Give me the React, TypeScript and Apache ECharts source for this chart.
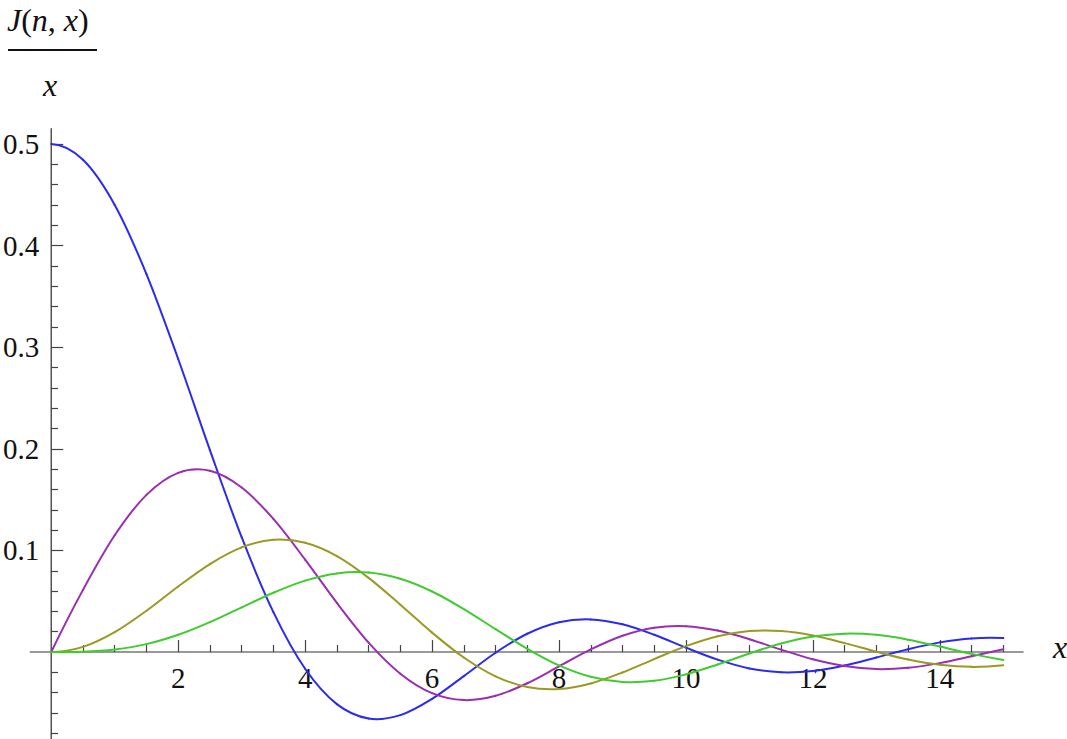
import React, { useEffect, useRef } from "react";
import * as echarts from "echarts";

// sample positions along x
const xs = [0, 0.5, 1, 1.5, 2, 2.5, 3, 3.5, 4, 4.5, 5, 5.5, 6, 6.5, 7, 7.5, 8, 8.5, 9, 9.5, 10, 10.5, 11, 11.5, 12, 12.5, 13, 13.5, 14, 14.5, 15];

// J(n, x) / x
const n1 = [0.5, 0.4845, 0.4401, 0.372, 0.2884, 0.1988, 0.113, 0.0393, -0.0165, -0.0513, -0.0655, -0.0621, -0.0461, -0.0237, -0.0007, 0.018, 0.0293, 0.0321, 0.0273, 0.017, 0.0043, -0.0075, -0.0161, -0.0199, -0.0186, -0.0132, -0.0054, 0.0028, 0.0095, 0.0134, 0.0137];
const n2 = [0, 0.0612, 0.1149, 0.1547, 0.1764, 0.1784, 0.162, 0.131, 0.091, 0.0484, 0.0093, -0.0213, -0.0405, -0.0473, -0.0431, -0.0307, -0.0141, 0.0026, 0.0161, 0.024, 0.0255, 0.0211, 0.0126, 0.0024, -0.0071, -0.0138, -0.0168, -0.0155, -0.0109, -0.0042, 0.0028];
const n3 = [0, 0.0051, 0.0196, 0.0406, 0.0645, 0.0866, 0.103, 0.1105, 0.1075, 0.0944, 0.073, 0.0466, 0.0191, -0.0054, -0.0239, -0.0344, -0.0364, -0.0309, -0.0201, -0.0069, 0.0058, 0.0156, 0.0207, 0.0207, 0.0163, 0.0088, 0.0003, -0.0074, -0.0126, -0.0146, -0.0129];
const n4 = [0, 0.0003, 0.0025, 0.0078, 0.017, 0.0295, 0.044, 0.0584, 0.0703, 0.0774, 0.0782, 0.0721, 0.0596, 0.0423, 0.0225, 0.0032, -0.0132, -0.0244, -0.0295, -0.0283, -0.022, -0.0122, -0.0014, 0.0084, 0.0152, 0.0181, 0.0169, 0.0122, 0.0054, -0.0018, -0.0079];

// ticks
const xMajor = [2, 4, 6, 8, 10, 12, 14];
const xMinor = [0.5, 1, 1.5, 2.5, 3, 3.5, 4.5, 5, 5.5, 6.5, 7, 7.5, 8.5, 9, 9.5, 10.5, 11, 11.5, 12.5, 13, 13.5, 14.5, 15];
const yMajor = [0.1, 0.2, 0.3, 0.4, 0.5];
const yMinor = [-0.08, -0.06, -0.04, -0.02, 0.02, 0.04, 0.06, 0.08, 0.12, 0.14, 0.16, 0.18, 0.22, 0.24, 0.26, 0.28, 0.32, 0.34, 0.36, 0.38, 0.42, 0.44, 0.46, 0.48];

const seriesDefs = [
  { name: "n1", values: n1, color: "#2a2af2" },
  { name: "n2", values: n2, color: "#9a2db4" },
  { name: "n3", values: n3, color: "#9a9a22" },
  { name: "n4", values: n4, color: "#40cc2e" },
];

const FONT = "'Liberation Serif', 'DejaVu Serif', serif";
const AXIS_COLOR = "#777777";
const TICK_COLOR = "#444444";

// axis ranges
const X_MIN = -0.33;
const X_MAX = 15.31;
const Y_MIN = -0.085;
const Y_MAX = 0.515;

// grid placement (pixels)
const G_LEFT = 30;
const G_RIGHT = 44;
const G_TOP = 128.8;
const G_BOTTOM = 0.6;
const W = 1067;
const H = 739;

// smooth curve through the data points (cubic Hermite / Catmull-Rom),
// drawn one segment per data item with the axis scales (api.coord)
function makeRenderItem(values: number[], color: string) {
  return (params: any, api: any) => {
    const i = params.dataIndex;
    const n = xs.length;
    if (i >= n - 1) return null;
    const P = (j: number) => api.coord([xs[j], values[j]]);
    const tangent = (j: number) => {
      if (j === 0) {
        const a = P(0), b = P(1), c = P(2);
        return [(-3 * a[0] + 4 * b[0] - c[0]) / 2, (-3 * a[1] + 4 * b[1] - c[1]) / 2];
      }
      if (j === n - 1) {
        const a = P(n - 3), b = P(n - 2), c = P(n - 1);
        return [(a[0] - 4 * b[0] + 3 * c[0]) / 2, (a[1] - 4 * b[1] + 3 * c[1]) / 2];
      }
      const a = P(j - 1), c = P(j + 1);
      return [(c[0] - a[0]) / 2, (c[1] - a[1]) / 2];
    };
    const p0 = P(i);
    const p1 = P(i + 1);
    const m0 = tangent(i);
    const m1 = tangent(i + 1);
    return {
      type: "bezierCurve",
      shape: {
        x1: p0[0],
        y1: p0[1],
        cpx1: p0[0] + m0[0] / 3,
        cpy1: p0[1] + m0[1] / 3,
        cpx2: p1[0] - m1[0] / 3,
        cpy2: p1[1] - m1[1] / 3,
        x2: p1[0],
        y2: p1[1],
      },
      style: { stroke: color, lineWidth: 2, fill: "none", lineCap: "round" },
    };
  };
}

export default function App() {
  const ref = useRef<HTMLDivElement>(null);

  useEffect(() => {
    if (!ref.current) return;
    const chart = echarts.init(ref.current, undefined, { renderer: "svg" });
    const gw = W - G_LEFT - G_RIGHT;
    const gh = H - G_TOP - G_BOTTOM;
    // pixel positions of the zero lines, used to offset the axes onto them
    const zeroY = G_TOP + (Y_MAX / (Y_MAX - Y_MIN)) * gh;
    const zeroX = G_LEFT + (-X_MIN / (X_MAX - X_MIN)) * gw;
    const offBottom = -(G_TOP + gh - zeroY);
    const offTop = -(zeroY - G_TOP);
    const offLeft = -(zeroX - G_LEFT);
    const offRight = -(G_LEFT + gw - zeroX);

    const option: any = {
      animation: false,
      backgroundColor: "#ffffff",
      textStyle: { fontFamily: FONT },
      grid: {
        left: G_LEFT,
        right: G_RIGHT,
        top: G_TOP,
        bottom: G_BOTTOM,
        containLabel: false,
      },
      xAxis: [
        {
          type: "value",
          min: X_MIN,
          max: X_MAX,
          position: "bottom",
          offset: offBottom,
          axisLine: { show: true, onZero: false, lineStyle: { color: AXIS_COLOR, width: 1.5 } },
          axisTick: { show: true, inside: true, length: 12, customValues: xMajor, lineStyle: { color: TICK_COLOR, width: 1.2 } },
          axisLabel: { show: true, customValues: xMajor, margin: 11, fontSize: 29, color: "#111", fontFamily: FONT },
          splitLine: { show: false },
        },
        {
          type: "value",
          min: X_MIN,
          max: X_MAX,
          position: "top",
          offset: offTop,
          axisLine: { show: false, onZero: false },
          axisTick: { show: true, inside: false, length: 7, customValues: xMinor, lineStyle: { color: TICK_COLOR, width: 1.2 } },
          axisLabel: { show: false },
          splitLine: { show: false },
        },
      ],
      yAxis: [
        {
          type: "value",
          min: Y_MIN,
          max: Y_MAX,
          position: "left",
          offset: offLeft,
          axisLine: { show: true, onZero: false, lineStyle: { color: "#555555", width: 1.5 } },
          axisTick: { show: true, inside: true, length: 12, customValues: yMajor, lineStyle: { color: TICK_COLOR, width: 1.2 } },
          axisLabel: {
            show: true,
            customValues: yMajor,
            margin: 12,
            fontSize: 29,
            color: "#111",
            fontFamily: FONT,
            formatter: (v: number) => v.toFixed(1),
          },
          splitLine: { show: false },
        },
        {
          type: "value",
          min: Y_MIN,
          max: Y_MAX,
          position: "right",
          offset: offRight,
          axisLine: { show: false, onZero: false },
          axisTick: { show: true, inside: false, length: 7, customValues: yMinor, lineStyle: { color: TICK_COLOR, width: 1.2 } },
          axisLabel: { show: false },
          splitLine: { show: false },
        },
      ],
      series: seriesDefs.map((s) => ({
        type: "custom",
        name: s.name,
        coordinateSystem: "cartesian2d",
        xAxisIndex: 0,
        yAxisIndex: 0,
        data: xs.map((x, i) => [x, s.values[i]]),
        encode: { x: 0, y: 1 },
        renderItem: makeRenderItem(s.values, s.color),
        itemStyle: { color: s.color },
        z: 3,
      })),
      graphic: [
        {
          type: "text",
          x: 7,
          y: 20,
          style: {
            text: "{i|J}{n|(}{i|n}{n|, }{i|x}{n|)}",
            verticalAlign: "middle",
            align: "left",
            rich: {
              i: { fontFamily: FONT, fontStyle: "italic", fontSize: 32, fill: "#111" },
              n: { fontFamily: FONT, fontStyle: "normal", fontSize: 32, fill: "#111" },
            },
          },
        },
        {
          type: "line",
          shape: { x1: 8, y1: 50, x2: 97, y2: 50 },
          style: { stroke: "#111", lineWidth: 2 },
        },
        {
          type: "text",
          x: 50,
          y: 85,
          style: {
            text: "x",
            align: "center",
            verticalAlign: "middle",
            fontFamily: FONT,
            fontStyle: "italic",
            fontSize: 32,
            fill: "#111",
          },
        },
        {
          type: "text",
          x: 1060,
          y: 647,
          style: {
            text: "x",
            align: "center",
            verticalAlign: "middle",
            fontFamily: FONT,
            fontStyle: "italic",
            fontSize: 32,
            fill: "#111",
          },
        },
      ],
    };
    chart.setOption(option);
    return () => {
      chart.dispose();
    };
  }, []);

  return (
    <div
      ref={ref}
      style={{ position: "fixed", left: 0, top: 0, width: W, height: H, background: "#fff" }}
    />
  );
}
